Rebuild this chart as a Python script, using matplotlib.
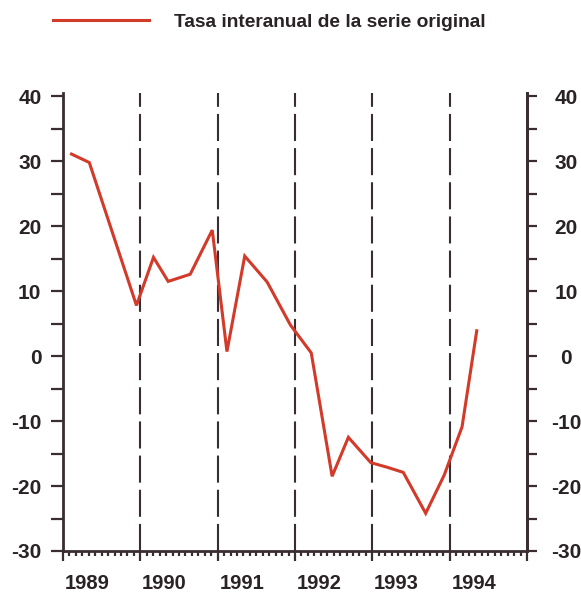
import numpy as np
import matplotlib.pyplot as plt
from matplotlib.ticker import MultipleLocator

plt.rcParams['axes.unicode_minus'] = False

# fechas (anio decimal, trimestral) y tasa interanual
fechas = [1989.11, 1989.34, 1989.645, 1989.95,
          1990.17, 1990.36, 1990.645, 1990.93,
          1991.12, 1991.35, 1991.64, 1991.94,
          1992.21, 1992.48, 1992.69, 1992.98,
          1993.19, 1993.40, 1993.69, 1993.93,
          1994.16, 1994.35]
tasa = [31.1, 29.8, 18.8, 7.8,
        15.2, 11.5, 12.6, 19.4,
        0.7, 15.4, 11.4, 4.8,
        0.5, -18.5, -12.5, -16.4,
        -17.1, -17.9, -24.2, -18.3,
        -10.9, 3.9]
anios = [1989, 1990, 1991, 1992, 1993, 1994]
cortes = [1990, 1991, 1992, 1993, 1994]
yticks = [-30, -20, -10, 0, 10, 20, 30, 40]

rojo = '#d23a2a'
oscuro = '#3a2c33'
fuente = ['Liberation Sans', 'DejaVu Sans']

fig = plt.figure(figsize=(5.81, 6.02), dpi=100)
ax = fig.add_axes([63/581, 51/602, 464/581, 458/602])

ax.plot(fechas, tasa, color=rojo, lw=2.2, solid_joinstyle='miter',
        label='Tasa interanual de la serie original', zorder=3)
for c in cortes:
    ax.axvline(c, color=oscuro, lw=1.5, dashes=(13, 3.4), zorder=2)

ax.set_xlim(1989, 1995)
ax.set_ylim(-30, 40.5)

# ejes
ax.spines['top'].set_visible(False)
for s in ['left', 'bottom', 'right']:
    ax.spines[s].set_color(oscuro)
    ax.spines[s].set_linewidth(2)

ax.set_yticks(yticks)
ax.yaxis.set_minor_locator(MultipleLocator(5))
ax.tick_params(axis='y', which='both', direction='out', length=8.5, width=1.6,
               color=oscuro, pad=7, labelsize=15, labelcolor='#2a2326')
for t in ax.get_yticklabels():
    t.set_fontweight('bold')
    t.set_family(fuente)

ax.xaxis.set_major_locator(MultipleLocator(1))
ax.xaxis.set_minor_locator(MultipleLocator(1/12))
ax.tick_params(axis='x', which='major', direction='out', length=7, width=1.6,
               color=oscuro, labelbottom=False)
ax.tick_params(axis='x', which='minor', direction='out', length=3.5, width=1.6,
               color=oscuro)
for a in anios:
    ax.text(a + 0.31, -0.07, str(a), transform=ax.get_xaxis_transform(),
            ha='center', va='center', fontsize=14.5, fontweight='bold',
            family=fuente, color='#2a2326')

# eje derecho
ax2 = ax.twinx()
ax2.set_ylim(ax.get_ylim())
ax2.set_yticks(yticks)
ax2.yaxis.set_minor_locator(MultipleLocator(5))
for s in ['top', 'left', 'bottom']:
    ax2.spines[s].set_visible(False)
ax2.spines['right'].set_color(oscuro)
ax2.spines['right'].set_linewidth(2)
ax2.tick_params(axis='y', which='both', direction='out', length=7, width=1.6,
                color=oscuro, pad=21, labelsize=15, labelcolor='#2a2326')
for t in ax2.get_yticklabels():
    t.set_fontweight('bold')
    t.set_family(fuente)
    t.set_horizontalalignment('center')

leg = ax.legend(loc='center left', bbox_to_anchor=(53/581, 1 - 22/602),
                bbox_transform=fig.transFigure, frameon=False,
                handlelength=5.0, handletextpad=1.3, borderpad=0,
                borderaxespad=0, prop={'family': fuente, 'weight': 'bold', 'size': 13.8})
for t in leg.get_texts():
    t.set_color('#2a2326')

fig.savefig('out.png', dpi=100, facecolor='white')
